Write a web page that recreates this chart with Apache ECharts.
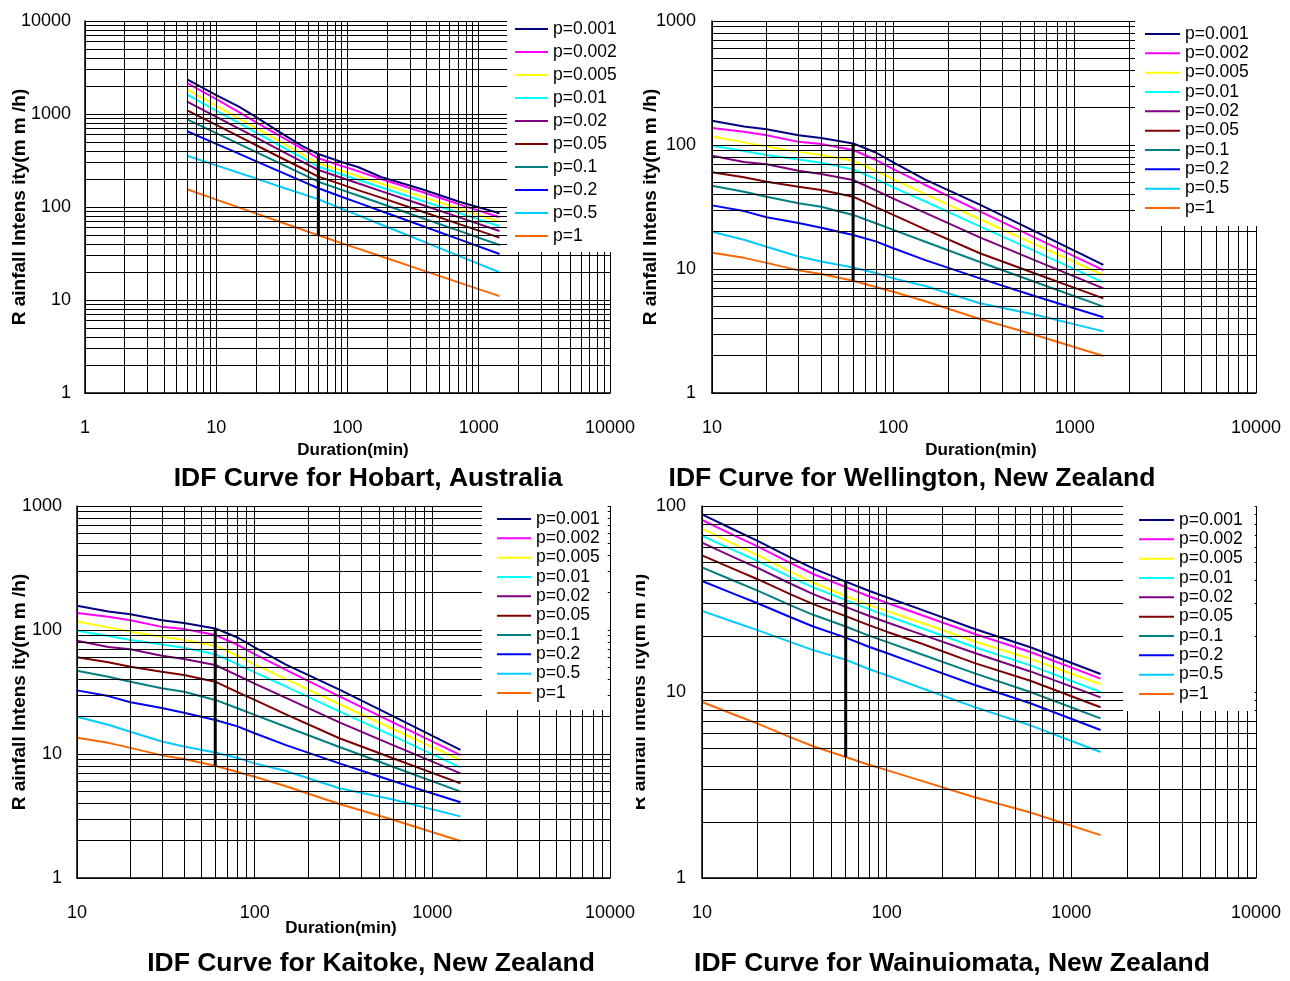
<!DOCTYPE html>
<html>
<head>
<meta charset="utf-8">
<script src="https://cdn.jsdelivr.net/npm/echarts@6/dist/echarts.min.js"></script>
<style>
  html, body { margin: 0; padding: 0; background: #fff; }
  #chart { width: 1290px; height: 981px; }
</style>
</head>
<body>
<div id="chart"></div>
<script>
// Exceedance probabilities and their line colours
const probLabels = ['p=0.001', 'p=0.002', 'p=0.005', 'p=0.01', 'p=0.02', 'p=0.05', 'p=0.1', 'p=0.2', 'p=0.5', 'p=1'];
const lineColors = ['#000080', '#FF00FF', '#FFFF00', '#00FFFF', '#800080', '#800000', '#008080', '#0000FF', '#00CCFF', '#FF6600'];

// Hobart: duration (min) and rainfall intensity (mm/h), one row per probability
const hobartDurations = [6, 10, 15, 20, 30, 45, 60, 90, 120, 180, 360, 720, 1440];
const hobartIntensity = [
  [2350, 1600, 1190, 930, 645, 455, 371, 305, 269, 210, 157, 113, 85.5],
  [2150, 1445, 1040, 820, 590, 425, 334, 277, 243, 200, 147, 106, 77.5],
  [1843, 1227, 888, 708, 513, 370, 295, 245, 215, 179, 131, 95.3, 69.5],
  [1614, 1086, 793, 634, 463, 339, 271, 225, 196, 163, 118, 85.6, 62],
  [1357, 932, 692, 560, 415, 308, 250, 206, 180, 148, 107, 76.8, 55.2],
  [1096, 762, 570, 464, 347, 261, 212, 175, 152, 126, 90.5, 65.1, 46.8],
  [877, 623, 474, 391, 298, 227, 187, 153, 133, 109, 77.2, 55, 39],
  [652, 477, 372, 312, 243, 190, 159, 129, 111.5, 90.6, 63.6, 44.6, 31.2],
  [356, 280, 232, 203, 167, 138.5, 121, 96, 81.7, 64.9, 43.7, 29.5, 19.9],
  [155, 120, 98.5, 85.4, 69.9, 57.2, 49.6, 40.9, 35.7, 29.5, 21.2, 15.3, 11]
];

// Wellington
const wellingtonDurations = [10, 15, 20, 30, 40, 60, 80, 100, 150, 300, 600, 1440];
const wellingtonIntensity = [
  [157, 141, 134, 120, 114, 103, 87, 72.5, 52.5, 33, 20.2, 10.8],
  [137, 128, 120, 106, 102, 91.2, 76, 64, 47.6, 29.2, 18, 9.8],
  [117, 105, 97, 88, 83, 74.7, 62, 52.8, 40.1, 25.2, 15.9, 8.95],
  [98.7, 89.5, 83, 76.5, 72, 63.7, 53, 45.5, 35, 22.1, 14, 7.81],
  [82, 73, 70, 62, 58.3, 52.2, 43, 37, 28.4, 18, 11.8, 6.98],
  [60.2, 55, 50.6, 46, 43.4, 38.3, 31.6, 27.3, 20.9, 13.4, 9.25, 5.8],
  [47, 42, 38.3, 33.9, 31.8, 27.3, 23.4, 20.7, 16.6, 11.4, 7.9, 4.97],
  [32.6, 29.3, 26.1, 23.5, 21.5, 18.8, 16.7, 14.7, 11.8, 8.4, 6.05, 4.08],
  [20, 17.2, 15.1, 12.6, 11.5, 10.3, 9.3, 8.4, 7.3, 5.3, 4.3, 3.14],
  [13.5, 12.3, 11.2, 9.75, 9.1, 8.05, 7.15, 6.56, 5.5, 3.95, 2.95, 1.99]
];

// Kaitoke
const kaitokeDurations = [10, 15, 20, 30, 40, 60, 80, 100, 150, 300, 600, 1440];
const kaitokeIntensity = [
  [157, 141, 134, 120, 114, 103, 87, 72.5, 52.5, 33, 20.2, 10.8],
  [137, 128, 120, 106, 102, 91.2, 76, 64, 47.6, 29.2, 18, 9.8],
  [117, 105, 97, 88, 83, 74.7, 62, 52.8, 40.1, 25.2, 15.9, 8.95],
  [98.7, 89.5, 83, 76.5, 72, 63.7, 53, 45.5, 35, 22.1, 14, 7.81],
  [82, 73, 70, 62, 58.3, 52.2, 43, 37, 28.4, 18, 11.8, 6.98],
  [60.2, 55, 50.6, 46, 43.4, 38.3, 31.6, 27.3, 20.9, 13.4, 9.25, 5.8],
  [47, 42, 38.3, 33.9, 31.8, 27.3, 23.4, 20.7, 16.6, 11.4, 7.9, 4.97],
  [32.6, 29.3, 26.1, 23.5, 21.5, 18.8, 16.7, 14.7, 11.8, 8.4, 6.05, 4.08],
  [20, 17.2, 15.1, 12.6, 11.5, 10.3, 9.3, 8.4, 7.3, 5.3, 4.3, 3.14],
  [13.5, 12.3, 11.2, 9.75, 9.1, 8.05, 7.15, 6.56, 5.5, 3.95, 2.95, 1.99]
];

// Wainuiomata
const wainuiomataDurations = [10, 15, 20, 30, 40, 60, 80, 100, 150, 300, 600, 1440];
const wainuiomataIntensity = [
  [90.2, 74.3, 65, 53, 46.2, 39.2, 35, 32.3, 28, 21.8, 17.4, 12.5],
  [84.1, 69.3, 60.6, 49.5, 43.1, 36.6, 32.7, 30.2, 26.2, 20.5, 16.4, 11.8],
  [75.5, 62.2, 54.4, 44.4, 38.7, 32.8, 29.4, 27.3, 23.8, 18.7, 15.1, 11.0],
  [69.2, 57.5, 50.6, 41.6, 36.5, 31.2, 27.9, 25.7, 22.3, 17.4, 13.9, 10.0],
  [63.5, 52.8, 46.5, 38.3, 33.6, 28.7, 25.7, 23.7, 20.6, 16.2, 12.9, 9.36],
  [54.3, 45.6, 40.4, 33.6, 29.7, 25.6, 22.9, 21.1, 18.4, 14.3, 11.5, 8.28],
  [46.8, 39.5, 35.1, 29.3, 26.0, 22.5, 20.1, 18.6, 16.1, 12.6, 10.0, 7.22],
  [39.5, 33.6, 30.0, 25.3, 22.5, 19.6, 17.5, 16.2, 14.0, 10.9, 8.70, 6.25],
  [27.3, 23.7, 21.5, 18.6, 16.8, 14.9, 13.3, 12.3, 10.6, 8.29, 6.62, 4.76],
  [8.84, 7.55, 6.76, 5.72, 5.11, 4.47, 4.06, 3.80, 3.36, 2.72, 2.25, 1.70]
];

// The one-hour duration marked on every panel
const markDuration = 60;

const FONT = '"Liberation Sans", Arial, sans-serif';

const panels = [
  {
    title: 'IDF Curve for Hobart, Australia', titlePos: [368, 479],
    durations: hobartDurations, intensity: hobartIntensity,
    grid: { left: 85, top: 21, width: 525, height: 372 },
    xRange: [1, 10000], yRange: [1, 10000], yLabelMargin: 14,
    xName: [353, 450], yName: [20, 207],
    legend: { left: 507, top: 16, padding: [4, 6, 7, 8], gap: 5, iconWidth: 33 }
  },
  {
    title: 'IDF Curve for Wellington, New Zealand', titlePos: [912, 479],
    durations: wellingtonDurations, intensity: wellingtonIntensity,
    grid: { left: 712, top: 21, width: 544, height: 372 },
    xRange: [10, 10000], yRange: [1, 1000], yLabelMargin: 16,
    xName: [981, 450], yName: [651, 207],
    legend: { left: 1135, top: 15, padding: [10, 10, 9, 10], gap: 1.33, iconWidth: 35 }
  },
  {
    title: 'IDF Curve for Kaitoke, New Zealand', titlePos: [371, 964],
    durations: kaitokeDurations, intensity: kaitokeIntensity,
    grid: { left: 77, top: 506, width: 533, height: 372 },
    xRange: [10, 10000], yRange: [1, 1000], yLabelMargin: 15,
    xName: [341, 928], yName: [20, 692],
    legend: { left: 482, top: 504, padding: [6, 8, 8, 15], gap: 1.33, iconWidth: 34 }
  },
  {
    title: 'IDF Curve for Wainuiomata, New Zealand', titlePos: [952, 964],
    durations: wainuiomataDurations, intensity: wainuiomataIntensity,
    grid: { left: 702, top: 506, width: 554, height: 372 },
    xRange: [10, 10000], yRange: [1, 100], yLabelMargin: 16,
    xName: null, yName: [640, 692],
    legend: { left: 1123, top: 504, padding: [7, 12, 8, 16], gap: 1.33, iconWidth: 35 }
  }
];

// Log-paper grid values: 1..9 times each power of ten, plus the upper bound
function logGridValues(range) {
  const vals = [];
  const k0 = Math.round(Math.log10(range[0]));
  const k1 = Math.round(Math.log10(range[1]));
  for (let k = k0; k < k1; k++) {
    for (let m = 1; m <= 9; m++) vals.push(m * Math.pow(10, k));
  }
  vals.push(range[1]);
  return vals;
}

const grids = [], xAxes = [], yAxes = [], series = [], legends = [], graphics = [];

panels.forEach((p, g) => {
  grids.push(Object.assign({ containLabel: false }, p.grid));

  const axisLine = { show: true, lineStyle: { color: '#000', width: 1.5 } };
  xAxes.push({
    type: 'log', logBase: 10, gridIndex: g, min: p.xRange[0], max: p.xRange[1],
    axisLine, axisTick: { show: false }, splitLine: { show: false },
    axisLabel: { color: '#000', fontSize: 18, fontFamily: FONT, margin: 26,
      showMinLabel: true, showMaxLabel: true, formatter: v => String(v) }
  });
  yAxes.push({
    type: 'log', logBase: 10, gridIndex: g, min: p.yRange[0], max: p.yRange[1],
    axisLine, axisTick: { show: false }, splitLine: { show: false },
    axisLabel: { color: '#000', fontSize: 18, fontFamily: FONT, margin: p.yLabelMargin,
      showMinLabel: true, showMaxLabel: true, formatter: v => String(v) }
  });

  // log-paper grid lines
  const gridLines = logGridValues(p.xRange).map(v => ({ xAxis: v }))
    .concat(logGridValues(p.yRange).map(v => ({ yAxis: v })));
  series.push({
    type: 'line', name: 'grid' + g, xAxisIndex: g, yAxisIndex: g, data: [], z: 1,
    silent: true, animation: false,
    markLine: {
      silent: true, animation: false, symbol: ['none', 'none'], label: { show: false },
      lineStyle: { color: '#000', width: 1, type: 'solid' },
      emphasis: { disabled: true },
      data: gridLines
    }
  });

  // IDF curves
  p.intensity.forEach((row, i) => {
    series.push({
      type: 'line', name: probLabels[i], xAxisIndex: g, yAxisIndex: g,
      data: p.durations.map((d, j) => [d, row[j]]),
      showSymbol: false, symbol: 'none', silent: true, animation: false, z: 3,
      lineStyle: { color: lineColors[i], width: 2 }, itemStyle: { color: lineColors[i] }
    });
  });

  // 60-minute marker spanning the lowest to the highest curve
  const mi = p.durations.indexOf(markDuration);
  const atMark = p.intensity.map(r => r[mi]);
  series.push({
    type: 'line', name: 'marker' + g, xAxisIndex: g, yAxisIndex: g,
    data: [[markDuration, Math.min(...atMark)], [markDuration, Math.max(...atMark)]],
    showSymbol: false, symbol: 'none', silent: true, animation: false, z: 5,
    lineStyle: { color: '#000', width: 3 }
  });

  legends.push({
    data: probLabels, orient: 'vertical', left: p.legend.left, top: p.legend.top,
    padding: p.legend.padding, itemGap: p.legend.gap, itemWidth: p.legend.iconWidth,
    itemHeight: 2, icon: 'rect', backgroundColor: '#fff', selectedMode: false, z: 10,
    textStyle: { color: '#000', fontSize: 17.5, lineHeight: 18, fontFamily: FONT }
  });

  graphics.push({
    type: 'text', x: p.titlePos[0], y: p.titlePos[1], z: 20,
    style: { text: p.title, fill: '#000', fontSize: 26.5, fontWeight: 'bold', fontFamily: FONT,
      align: 'center', verticalAlign: 'middle' }
  });
  if (p.xName) {
    graphics.push({
      type: 'text', x: p.xName[0], y: p.xName[1], z: 20,
      style: { text: 'Duration(min)', fill: '#000', fontSize: 17, fontWeight: 'bold', fontFamily: FONT,
        align: 'center', verticalAlign: 'middle' }
    });
  }
  graphics.push({
    type: 'text', x: p.yName[0], y: p.yName[1], rotation: Math.PI / 2, z: 20,
    style: { text: 'R ainfall Intens ity(m m /h)', fill: '#000', fontSize: 19, fontWeight: 'bold',
      fontFamily: FONT, align: 'center', verticalAlign: 'middle' }
  });
});

// the left edge of the last panel's axis title is cut off
graphics.push({ type: 'rect', z: 30, shape: { x: 614, y: 540, width: 22, height: 300 }, style: { fill: '#fff' } });

const chart = echarts.init(document.getElementById('chart'), null, { renderer: 'canvas' });
chart.setOption({
  animation: false,
  backgroundColor: '#fff',
  grid: grids, xAxis: xAxes, yAxis: yAxes,
  legend: legends, series: series, graphic: graphics
});
</script>
</body>
</html>
